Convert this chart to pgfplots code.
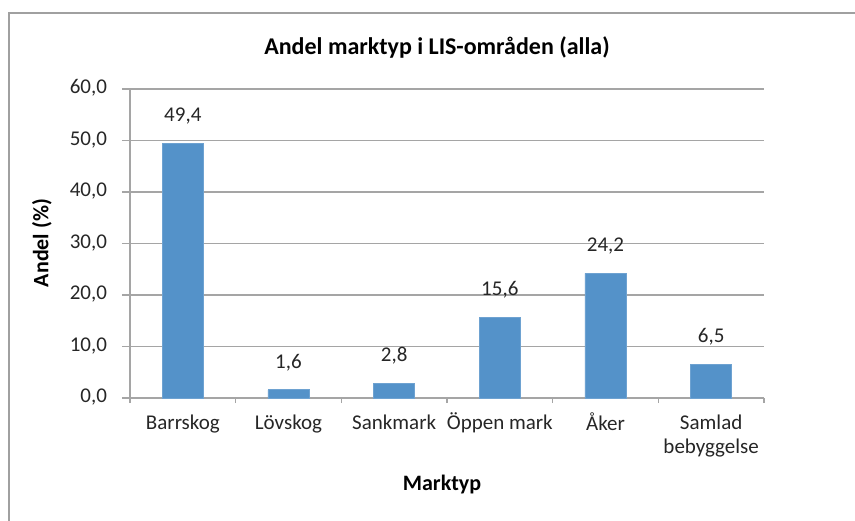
\documentclass[border=0pt]{standalone}
\usepackage{fontspec}
\setmainfont{Carlito}
\usepackage{pgfplots}
\pgfplotsset{compat=1.18}

\definecolor{barblue}{RGB}{84,146,201}
\definecolor{gridgray}{RGB}{165,165,165}
\definecolor{framegray}{RGB}{160,160,160}

\begin{document}
\begin{tikzpicture}
% canvas: 1 px of the reference = 0.5pt
\path[use as bounding box] (0,0) rectangle (427.5pt,-260pt);
\draw[framegray, line width=1pt] (4.5pt,-262pt) -- (4.5pt,-6.5pt) -- (430pt,-6.5pt);

\begin{axis}[
  at={(65pt,-199pt)}, anchor=south west,
  scale only axis, width=317pt, height=154.5pt,
  ybar, bar width=20.5pt,
  xmin=-0.5, xmax=5.5, ymin=0, ymax=60,
  xtick={0,...,5},
  xticklabels={Barrskog, Lövskog, Sankmark, Öppen mark, Åker, {Samlad\\bebyggelse}},
  minor xtick={-0.5,0.5,...,5.5},
  ytick={0,10,...,60},
  axis x line*=bottom, axis y line*=left,
  axis line style={gridgray, line width=0.8pt},
  ymajorgrids, grid style={gridgray, line width=0.8pt},
  tick align=outside,
  major tick style={gridgray, line width=0.8pt},
  minor tick style={gridgray, line width=0.8pt},
  major x tick style={draw=none},
  major tick length=4pt, minor tick length=2.5pt,
  x axis line style={-}, y axis line style={-},
  typeset ticklabels with strut,
  ticklabel style={font=\fontsize{10.5}{12}\selectfont, text=black!85},
  xticklabel style={align=center, yshift=0pt},
  yticklabel style={xshift=-4pt},
  y tick label style={/pgf/number format/.cd, fixed, fixed zerofill, precision=1, use comma, assume math mode=true},
  nodes near coords={\pgfmathprintnumber[fixed,fixed zerofill,precision=1,use comma,assume math mode=true]{\pgfplotspointmeta}},
  every node near coord/.append style={font=\fontsize{10.5}{12}\selectfont, text=black!85, yshift=6pt},
]
\addplot[fill=barblue, draw=barblue!85!white] coordinates {(0,49.4) (1,1.6) (2,2.8) (3,15.6) (4,24.2) (5,6.5)};
\end{axis}

\node[font=\fontsize{12}{14}\selectfont\bfseries] at (218.5pt,-23.5pt) {Andel marktyp i LIS-områden (alla)};
\node[font=\fontsize{11}{13}\selectfont\bfseries, rotate=90] at (21pt,-121.5pt) {Andel (\%)};
\node[font=\fontsize{11}{13}\selectfont\bfseries] at (221pt,-242.5pt) {Marktyp};
\end{tikzpicture}
\end{document}
